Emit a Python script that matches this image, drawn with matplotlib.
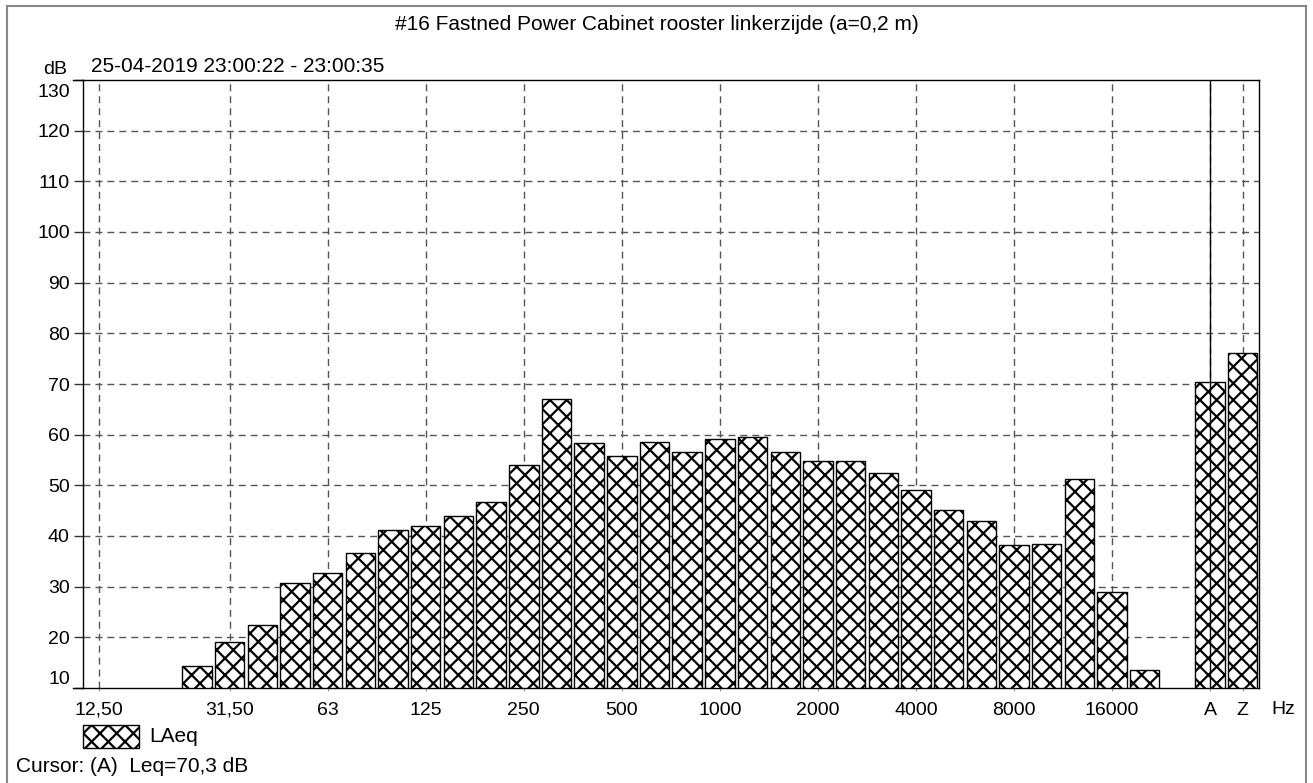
import matplotlib
matplotlib.use("Agg")
import matplotlib.pyplot as plt
from matplotlib.patches import Rectangle
from matplotlib.lines import Line2D
from matplotlib.transforms import ScaledTranslation

plt.rcParams['font.family'] = ['Liberation Sans', 'DejaVu Sans']
plt.rcParams['hatch.linewidth'] = 1.6

# 1/3-octave bands (Hz) followed by the broadband A and Z totals
bands = ['12,5', '16', '20', '25', '31,5', '40', '50', '63', '80', '100',
         '125', '160', '200', '250', '315', '400', '500', '630', '800', '1000',
         '1250', '1600', '2000', '2500', '3150', '4000', '5000', '6300', '8000',
         '10000', '12500', '16000', '20000']
laeq = [None, None, None, 14.4, 19.0, 22.5, 30.8, 32.7, 36.6, 41.1,
        41.9, 44.0, 46.7, 54.1, 67.0, 58.3, 55.8, 58.6, 56.5, 59.2,
        59.6, 56.5, 54.9, 54.9, 52.5, 49.0, 45.1, 42.9, 38.2,
        38.5, 51.2, 28.9, 13.5]
totals = ['A', 'Z']
totals_laeq = [70.3, 76.1]

tick_bands = ['12,5', '31,5', '63', '125', '250', '500', '1000', '2000',
              '4000', '8000', '16000', 'A', 'Z']
tick_labels = ['12,50', '31,50', '63', '125', '250', '500', '1000', '2000',
               '4000', '8000', '16000', 'A', 'Z']
y_ticks = list(range(10, 131, 10))

title = '#16 Fastned Power Cabinet rooster linkerzijde (a=0,2 m)'
period = '25-04-2019 23:00:22 - 23:00:35'
cursor_band = 'A'
cursor_text = 'Cursor: (A)  Leq=70,3 dB'

FS_TICK = 14
FS_TEXT = 15
W, H = 1313, 783
fig = plt.figure(figsize=(W / 100, H / 100), dpi=100)

def fx(px):
    return px / W

def fy(py):
    return 1 - py / H

ax_left, ax_right, ax_top, ax_bot = 82.7, 1259.0, 80.0, 688.0
ax = fig.add_axes([fx(ax_left), fy(ax_bot), fx(ax_right - ax_left), (ax_bot - ax_top) / H])

# x positions: bands, an empty slot, then A and Z
pos = {b: i for i, b in enumerate(bands)}
pos['A'] = len(bands) + 1
pos['Z'] = len(bands) + 2

xs, hs = [], []
for b, v in zip(bands, laeq):
    if v is not None:
        xs.append(pos[b])
        hs.append(v)
for b, v in zip(totals, totals_laeq):
    xs.append(pos[b])
    hs.append(v)

grid_kw = dict(color='#555555', linewidth=1.0, dashes=(5, 3.6), zorder=1)
for t in tick_bands:
    ax.axvline(pos[t], **grid_kw)
for v in y_ticks[1:-1]:
    ax.axhline(v, **grid_kw)

ax.bar(xs, hs, width=0.9, color='white', edgecolor='black', linewidth=1.0,
       hatch='xx', zorder=2)

ax.axvline(pos[cursor_band], color='black', linewidth=1.0, zorder=3)

ax.set_xlim(-0.5, pos['Z'] + 0.5)
ax.set_ylim(10, 130)

ax.set_xticks([pos[t] for t in tick_bands])
ax.set_xticklabels(tick_labels, fontsize=FS_TICK)
ax.tick_params(axis='x', length=2, width=0.8, color='#999999', pad=8)
ax.set_yticks(y_ticks)
ax.set_yticklabels([str(v) for v in y_ticks], fontsize=FS_TICK)
ax.tick_params(axis='y', length=6.8, width=1.0, color='#333333', pad=2.5)
ylabels = ax.get_yticklabels()
ylabels[0].set_va('bottom')
ylabels[-1].set_va('top')
ylabels[-1].set_transform(ylabels[-1].get_transform()
                          + ScaledTranslation(0, -4 / 100, fig.dpi_scale_trans))

for s in ax.spines.values():
    s.set_linewidth(1.0)
    s.set_color('black')

fig.text(fx(1283), fy(710), 'Hz', fontsize=FS_TICK, ha='center', va='center')

# top and bottom axis lines run slightly past the left spine
for py in (ax_top, ax_bot):
    fig.add_artist(Line2D([fx(73), fx(ax_left)], [fy(py), fy(py)],
                          color='black', linewidth=1.0))

fig.text(0.5, fy(24), title, fontsize=FS_TEXT, ha='center', va='center')
fig.text(fx(67), fy(69), 'dB', fontsize=FS_TICK, ha='right', va='center')
fig.text(fx(91), fy(67), period, fontsize=FS_TEXT, ha='left', va='center')

# legend swatch
fig.add_artist(Rectangle((fx(83), fy(748)), fx(139 - 83), (748 - 725) / H,
                         transform=fig.transFigure, facecolor='white',
                         edgecolor='black', linewidth=1.0, hatch='xx'))
fig.text(fx(149), fy(736), 'LAeq', fontsize=FS_TEXT, ha='left', va='center')

fig.text(fx(16), fy(766), cursor_text, fontsize=FS_TEXT, ha='left', va='center')

# outer frame
fig.add_artist(Rectangle((fx(7), fy(800)), fx(1306 - 7), (800 - 6) / H,
                         transform=fig.transFigure, fill=False,
                         edgecolor='#888888', linewidth=1.5))

fig.savefig('out.png', dpi=100)
